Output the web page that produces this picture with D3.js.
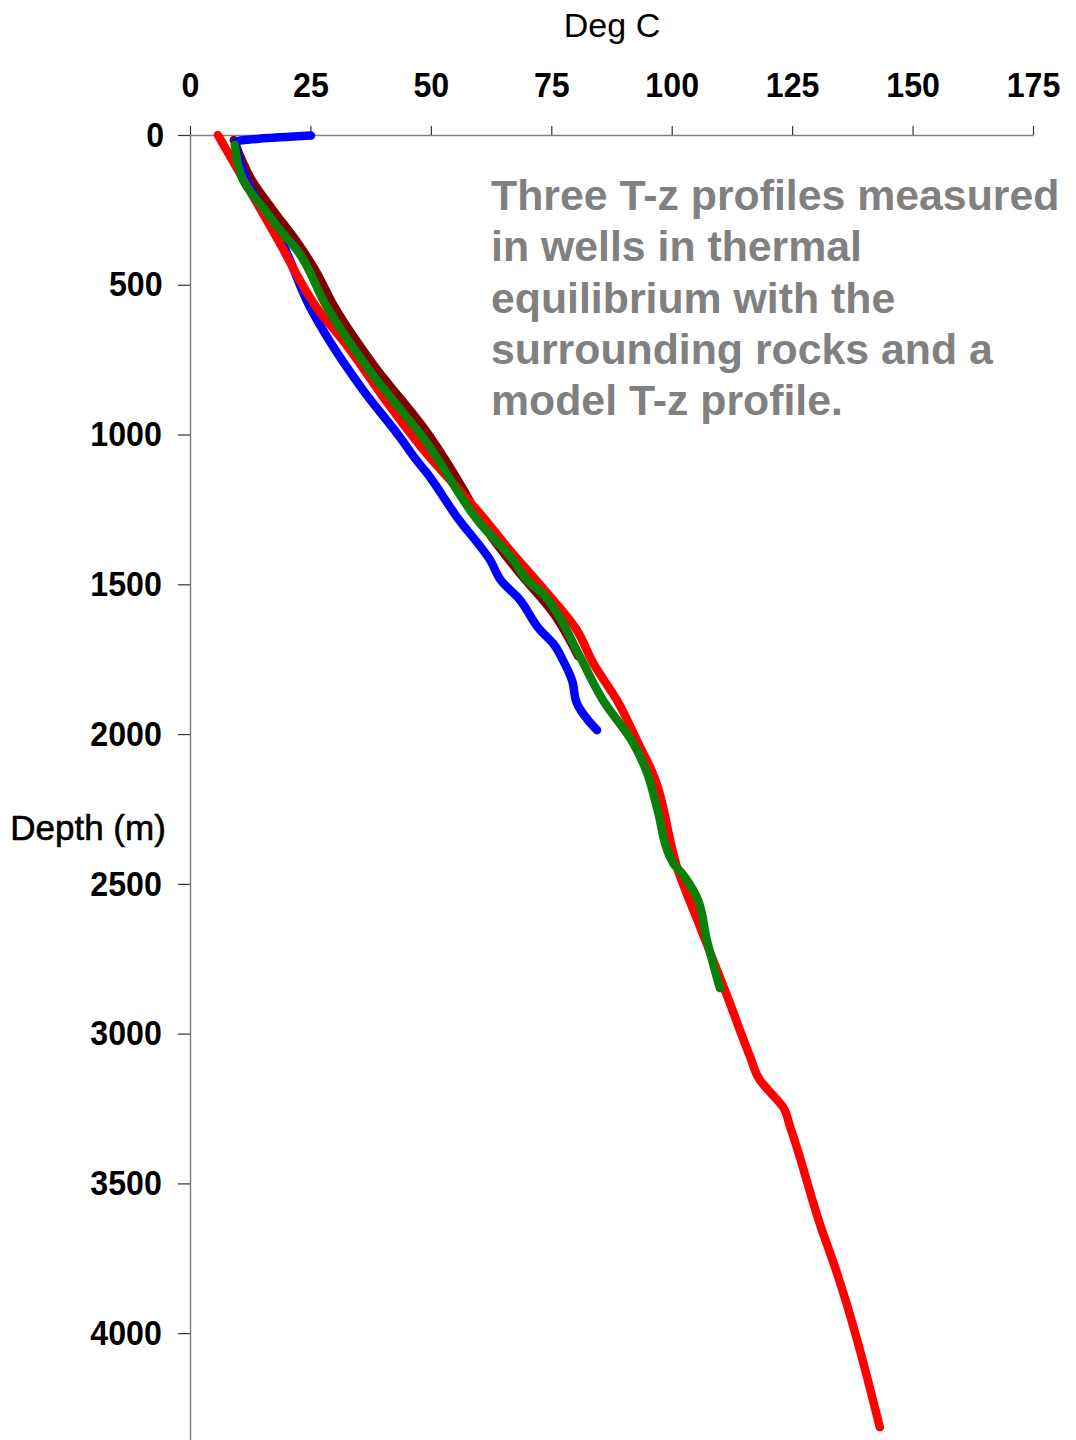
<!DOCTYPE html>
<html>
<head>
<meta charset="utf-8">
<script src="https://cdn.jsdelivr.net/npm/d3@7"></script>
<style>
  body { margin: 0; background: #fff; }
  text { font-family: Arial, "Liberation Sans", sans-serif; }
  .tick text { transform-box: fill-box; transform-origin: center; transform: scaleX(0.92); }
</style>
</head>
<body>
<div id="chart"></div>
<script>
// x ticks (deg C) and y ticks (depth m)
var tempTicks = [0, 25, 50, 75, 100, 125, 150, 175];
var depthTicks = [0, 500, 1000, 1500, 2000, 2500, 3000, 3500, 4000];

// well 1 (dark red)
var well1Depth = [17, 150, 250, 361, 451, 574, 761, 995, 1185, 1300, 1450, 1600, 1740];
var well1Temp  = [9.1, 12.8, 17.2, 22.4, 26, 30, 37.8, 49.3, 56.8, 60.8, 67.8, 75.6, 80.6];

// well 2 (blue)
var well2Depth = [2, 23, 150, 351, 574, 851, 1018, 1075, 1129, 1275, 1419, 1492, 1543, 1653, 1700, 1753, 1820, 1897, 1953, 1987];
var well2Temp  = [25.1, 9.5, 11.8, 18.9, 24.9, 35.9, 44, 46.5, 49.2, 55.4, 62.3, 64.8, 68, 72.7, 75.5, 77.4, 79.3, 80.3, 82.6, 84.5];

// model profile (red)
var modelDepth = [0, 351, 574, 708, 895, 1042, 1275, 1386, 1519, 1653, 1763, 1886, 2042, 2110, 2464, 2644, 2878, 3078, 3155, 3195, 3245, 3312, 3666, 3733, 4314];
var modelTemp  = [5.8, 18.3, 26.2, 32.8, 41, 48, 60.8, 66.4, 73.6, 80.3, 83.7, 88.6, 93.4, 95.5, 101.5, 105.9, 111.6, 116.3, 118.3, 120.4, 123.1, 124.6, 131.4, 132.9, 143.2];

// well 3 (green)
var well3Depth = [33, 150, 260, 317, 384, 574, 774, 1028, 1296, 1419, 1486, 1536, 1597, 1743, 1886, 2030, 2130, 2243, 2431, 2464, 2544, 2688, 2848];
var well3Temp  = [9.3, 11, 16, 18.7, 22.2, 28.4, 36.7, 49.2, 60.2, 67.1, 70, 73.5, 76.2, 81, 85.7, 92, 94.9, 96.9, 100.3, 102.1, 105.2, 107.3, 110];

var note = ["Three T-z profiles measured", "in wells in thermal", "equilibrium with the",
            "surrounding rocks and a", "model T-z profile."];

var svgWidth = 1076;
var svgHeight = 1440;

var svg = d3.select("#chart")
    .append("svg")
    .attr("width", svgWidth)
    .attr("height", svgHeight);

var xScale = d3.scaleLinear().domain([0, 175]).range([190, 1033]);
var yScale = d3.scaleLinear().domain([0, 4360]).range([135, 1441]);

// axes
var xAxis = svg.append("g")
    .attr("transform", "translate(0,135)")
    .call(d3.axisTop(xScale).tickValues(tempTicks).tickSize(9).tickPadding(29).tickSizeOuter(0));

var yAxis = svg.append("g")
    .attr("transform", "translate(190,0)")
    .call(d3.axisLeft(yScale).tickValues(depthTicks).tickFormat(d3.format("d"))
        .tickSize(12).tickPadding(13).tickSizeOuter(0));

[xAxis, yAxis].forEach(function (ax) {
    ax.select(".domain").attr("stroke", "#808080").attr("stroke-width", 1.5);
    ax.selectAll(".tick line").attr("stroke", "#333").attr("stroke-width", 1.2);
    ax.selectAll(".tick text")
        .attr("fill", "#000")
        .attr("font-size", 35)
        .attr("font-weight", "bold");
});

// axis titles
svg.append("text")
    .attr("x", 612).attr("y", 37)
    .attr("text-anchor", "middle")
    .attr("font-size", 34)
    .text("Deg C");

svg.append("text")
    .attr("x", 88).attr("y", 840)
    .attr("text-anchor", "middle")
    .attr("font-size", 35)
    .attr("stroke", "#000").attr("stroke-width", 0.6)
    .text("Depth (m)");

// profiles
var line = d3.line()
    .curve(d3.curveMonotoneY)
    .x(d => xScale(d[1]))
    .y(d => yScale(d[0]));

function drawProfile(depths, temps, color) {
    svg.append("path")
        .datum(depths.map((z, i) => [z, temps[i]]))
        .attr("d", line)
        .attr("fill", "none")
        .attr("stroke", color)
        .attr("stroke-width", 8.5)
        .attr("stroke-linejoin", "round")
        .attr("stroke-linecap", "round");
}

drawProfile(well1Depth, well1Temp, "#800000");
drawProfile(well2Depth, well2Temp, "#0000ff");
drawProfile(modelDepth, modelTemp, "#ff0000");
drawProfile(well3Depth, well3Temp, "#0a800a");

// annotation
svg.append("g").selectAll("text")
    .data(note)
    .enter()
    .append("text")
    .attr("x", 491)
    .attr("y", (d, i) => 210 + i * 51.3)
    .attr("font-size", 42.8)
    .attr("font-weight", "bold")
    .attr("fill", "#808080")
    .text(d => d);
</script>
</body>
</html>
